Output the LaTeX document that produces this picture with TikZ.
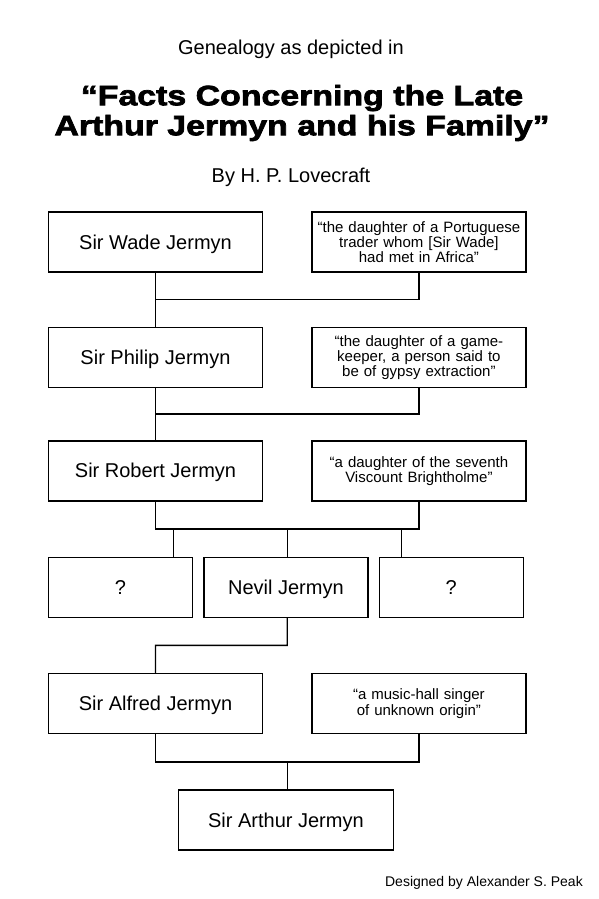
\documentclass[tikz,border=0pt]{standalone}
\usepackage{fontspec}
\setmainfont{Liberation Sans}
\newfontfamily\headfont{Liberation Sans Bold}[FakeBold=2.6, FakeStretch=1.21]
\usepackage{tikz}
\usetikzlibrary{positioning,calc}

\begin{document}
\begin{tikzpicture}[
    x=1pt, y=-1pt,
    node distance=54pt and 48pt,
    frame/.style={rectangle, draw, line width=1.4pt, minimum width=214pt, minimum height=60pt, inner sep=0pt},
    person/.style={frame, text height=18pt, text depth=4pt, font=\fontsize{20}{22}\selectfont},
    spouse/.style={frame, text width=205pt, align=center, font=\fontsize{15}{15.2}\selectfont},
    child/.style={person, minimum width=144pt},
    link/.style={line width=1.4pt},
    caption/.style={anchor=base, inner sep=0pt, font=\fontsize{20}{24}\selectfont}
]
\useasboundingbox (0,0) rectangle (599,899);

% Heading
\node[caption] (intro) at (291,55) {Genealogy as depicted in};
\node[inner sep=0pt, align=center, font=\headfont\fontsize{28}{30}\selectfont] (title) at (302,113)
    {“Facts Concerning the Late\\Arthur Jermyn and his Family”};
\node[caption] (author) at (291,182) {By H. P. Lovecraft};

% Generation 1
\node[person] (wade) at (155.5,242) {Sir Wade Jermyn};
\node[spouse, right=of wade] (wadewife) {“the daughter of a Portuguese\\trader whom [Sir Wade]\\had met in Africa”};

% Generation 2
\node[person, below=of wade] (philip) {Sir Philip Jermyn};
\node[spouse, right=of philip] (philipwife) {“the daughter of a game-\\keeper, a person said to\\be of gypsy extraction”};

% Generation 3
\node[person, below=52pt of philip] (robert) {Sir Robert Jermyn};
\node[spouse, right=of robert] (robertwife) {“a daughter of the seventh\\Viscount Brightholme”};

% Generation 4
\node[child, below=55pt of robert.south west, anchor=north west] (unknownA) {?};
\node[child, minimum width=164pt, right=10pt of unknownA] (nevil) {Nevil Jermyn};
\node[child, right=10pt of nevil] (unknownB) {?};

% Generation 5
\node[person, below=55pt of unknownA.south west, anchor=north west] (alfred) {Sir Alfred Jermyn};
\node[spouse, right=of alfred] (alfredwife) {“a music-hall singer\\of unknown origin”};

% Generation 6
\node[person, minimum width=215pt, below=55pt] (arthur) at (alfred.south -| nevil) {Sir Arthur Jermyn};

% Marriage lines
\coordinate (m1) at ($(wade.south)!0.5!(philip.north)$);
\draw[link] (wade.south) -- (philip.north);
\draw[link] (m1) -| (wadewife.south);

\coordinate (m2) at ($(philip.south)!0.5!(robert.north)$);
\draw[link] (philip.south) -- (robert.north);
\draw[link] (m2) -| (philipwife.south);

\coordinate (m3) at ($(robert.south)!0.5!(nevil.north -| robert.south)$);
\draw[link] (robert.south) -- (m3) -| (robertwife.south);
\coordinate (k3) at ($(m3)!0.5!(m3 -| robertwife.south)$);
\foreach \dx/\kid in {-114/unknownA, 0/nevil, 114/unknownB}
    \draw[link] ($(k3)+(\dx,0)$) -- ($(k3 |- \kid.north)+(\dx,0)$);

\coordinate (m4) at ($(k3 |- nevil.south)!0.5!(k3 |- alfred.north)$);
\draw[link] (k3 |- nevil.south) -- (m4) -| (alfred.north);

\coordinate (m5) at ($(alfred.south)!0.5!(alfred.south |- arthur.north)$);
\draw[link] (alfred.south) -- (m5) -| (alfredwife.south);
\coordinate (k5) at ($(m5)!0.5!(m5 -| alfredwife.south)$);
\draw[link] (k5) -- (k5 |- arthur.north);

% Credit
\node[anchor=base east, inner sep=0pt, font=\fontsize{14}{16}\selectfont] (credit) at (583,886) {Designed by Alexander S. Peak};

\end{tikzpicture}
\end{document}
